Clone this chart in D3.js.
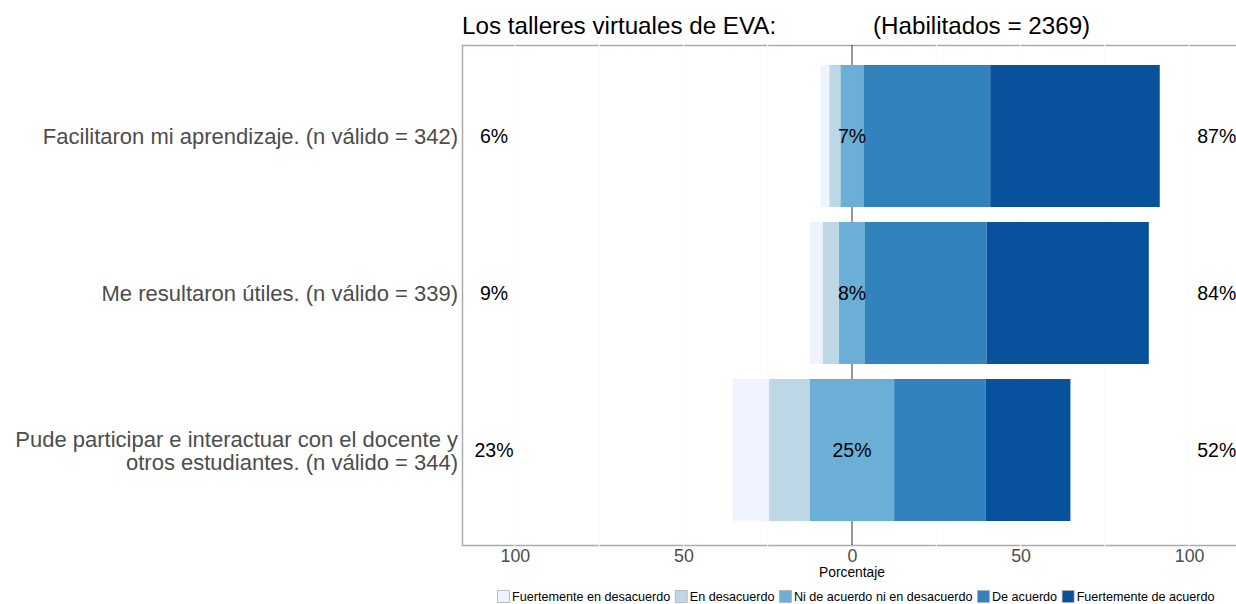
<!DOCTYPE html>
<html>
<head>
<meta charset="utf-8">
<script src="https://cdn.jsdelivr.net/npm/d3@7"></script>
<style>
  body { margin: 0; background: #fff; }
  svg { font-family: "Liberation Sans", Arial, Helvetica, sans-serif; }
</style>
</head>
<body>
<div id="chart"></div>
<script>
// rows, top to bottom
let items = [
  ["Facilitaron mi aprendizaje. (n válido = 342)"],
  ["Me resultaron útiles. (n válido = 339)"],
  ["Pude participar e interactuar con el docente y", "otros estudiantes. (n válido = 344)"]
];
let levels = ["Fuertemente en desacuerdo", "En desacuerdo", "Ni de acuerdo ni en desacuerdo", "De acuerdo", "Fuertemente de acuerdo"];
let levelColors = ["#EFF3FF", "#BDD7E7", "#6BAED6", "#3182BD", "#08519C"];

// percentages per level, one array per row
let pctFacilitaron = [2.7, 3.3, 6.8, 37.6, 50.3];
let pctUtiles      = [3.8, 4.8, 7.7, 36.1, 48.1];
let pctParticipar  = [10.8, 12.1, 25.0, 27.2, 25.1];
let pctRows = [pctFacilitaron, pctUtiles, pctParticipar];

let lowLabels  = ["6%", "9%", "23%"];
let midLabels  = ["7%", "8%", "25%"];
let highLabels = ["87%", "84%", "52%"];

let xTicks = [-100, -50, 0, 50, 100];
let gridTicks = [-100, -75, -50, -25, 25, 50, 75, 100];

const W = 1236, H = 604;
const panel = { left: 462, top: 45, right: 1242, bottom: 545 };

let svg = d3.select("#chart").append("svg")
  .attr("width", W).attr("height", H);

let x = d3.scaleLinear().domain([-115.7, 115.7]).range([panel.left, panel.right]);
let y = d3.scaleBand().domain(d3.range(items.length))
  .range([panel.top, panel.bottom]).paddingInner(0.0955).paddingOuter(0.14).align(0.455);

// panel border
svg.append("rect")
  .attr("x", panel.left + 0.5).attr("y", panel.top + 0.5)
  .attr("width", panel.right - panel.left).attr("height", panel.bottom - panel.top)
  .attr("fill", "#fff").attr("stroke", "#ababab").attr("stroke-width", 1.5);

// white grid (only visible where it cuts the border)
svg.append("g").selectAll("line").data(gridTicks).enter().append("line")
  .attr("x1", d => x(d)).attr("x2", d => x(d))
  .attr("y1", panel.top - 1).attr("y2", panel.bottom + 2)
  .attr("stroke", "#fafafa").attr("stroke-width", 1);

// zero line
svg.append("line")
  .attr("x1", x(0)).attr("x2", x(0))
  .attr("y1", panel.top).attr("y2", panel.bottom)
  .attr("stroke", "#333").attr("stroke-width", 1);

// stacked diverging segments
let segs = [];
pctRows.forEach((vals, r) => {
  let start = -(vals[0] + vals[1] + vals[2] / 2);
  vals.forEach((v, k) => {
    segs.push({ row: r, level: k, x0: start, x1: start + v });
    start += v;
  });
});

svg.append("g").selectAll("rect").data(segs).enter().append("rect")
  .attr("x", d => x(d.x0))
  .attr("width", d => x(d.x1) - x(d.x0))
  .attr("y", d => y(d.row))
  .attr("height", y.bandwidth())
  .attr("fill", d => levelColors[d.level]);

// percentage labels
let lblG = svg.append("g").attr("font-size", 19.5).attr("fill", "#000").attr("text-anchor", "middle");
items.forEach((it, r) => {
  let cy = y(r) + y.bandwidth() / 2 + 7;
  lblG.append("text").attr("x", x(-106.2)).attr("y", cy).text(lowLabels[r]);
  lblG.append("text").attr("x", x(0)).attr("y", cy).text(midLabels[r]);
  lblG.append("text").attr("x", x(108.2)).attr("y", cy).text(highLabels[r]);
});

// row labels
let rowG = svg.append("g").attr("font-size", 22).attr("fill", "#4d4d4d").attr("text-anchor", "end");
items.forEach((lines, r) => {
  let cy = y(r) + y.bandwidth() / 2;
  let t = rowG.append("text").attr("x", panel.left - 4);
  lines.forEach((ln, i) => {
    t.append("tspan").attr("x", panel.left - 4)
      .attr("y", cy + 8 + (i - (lines.length - 1) / 2) * 23)
      .text(ln);
  });
});

// x axis
let axG = svg.append("g").attr("transform", `translate(0,${panel.bottom})`)
  .call(d3.axisBottom(x).tickValues(xTicks).tickFormat(d => Math.abs(d)).tickSize(0).tickPadding(4));
axG.select(".domain").remove();
axG.selectAll("text").attr("font-size", 17.8).attr("fill", "#4d4d4d")
  .attr("font-family", "Liberation Sans, Arial, sans-serif");

svg.append("text").attr("x", x(0)).attr("y", 577)
  .attr("text-anchor", "middle").attr("font-size", 13.8).attr("fill", "#000")
  .text("Porcentaje");

// title
svg.append("text").attr("x", panel.left).attr("y", 34)
  .attr("font-size", 24.2).attr("fill", "#000")
  .text("Los talleres virtuales de EVA:");
svg.append("text").attr("x", 873).attr("y", 34)
  .attr("font-size", 24.2).attr("fill", "#000")
  .text("(Habilitados = 2369)");

// legend
let leg = svg.append("g").attr("font-size", 12.6);
let lx = 497;
levels.forEach((lv, k) => {
  leg.append("rect").attr("x", lx + 0.5).attr("y", 590.5).attr("width", 12).attr("height", 12)
    .attr("fill", levelColors[k]).attr("stroke", "#b0b0b0").attr("stroke-width", 0.8);
  let t = leg.append("text").attr("x", lx + 15).attr("y", 601).attr("fill", "#000").text(lv);
  lx += 15 + t.node().getComputedTextLength() + 4.5;
});
</script>
</body>
</html>
